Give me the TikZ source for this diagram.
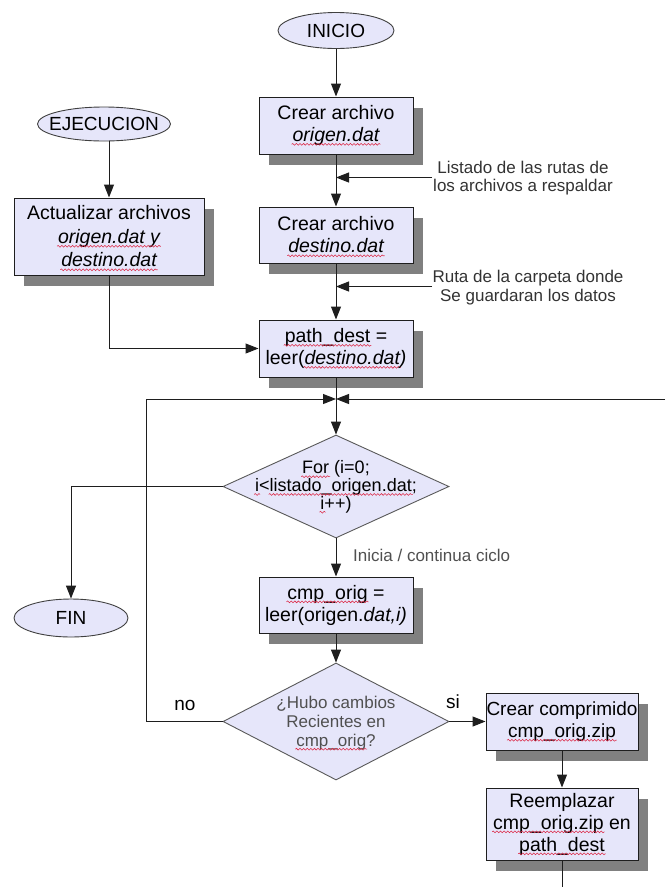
\documentclass[tikz,border=0pt]{standalone}
\usepackage{fontspec}
\setmainfont{Liberation Sans}
\usetikzlibrary{shapes.geometric,arrows.meta,shadows,decorations.pathmorphing}

\definecolor{lav}{RGB}{230,230,250}
\definecolor{shade}{RGB}{128,128,128}
\definecolor{edge}{RGB}{30,30,30}
\definecolor{softtext}{RGB}{80,80,80}
\definecolor{spellred}{RGB}{220,40,70}

% red wavy underline, as a spell checker marks unknown words
\newcommand\spellmark[1]{\tikz[baseline=(sw.base)]{%
  \node[shape=rectangle, inner sep=0pt, outer sep=0pt, anchor=base,
        minimum width=0pt, minimum height=0pt, draw=none, fill=none] (sw) {#1};%
  \draw[overlay, spellred, line width=0.55pt, decorate,
        decoration={snake, amplitude=0.9pt, segment length=3.6pt}]
    ([yshift=-2.8pt,xshift=-1pt]sw.base west) -- ([yshift=-2.8pt,xshift=1pt]sw.base east);}}

\begin{document}
\begin{tikzpicture}[x=1pt,y=-1pt,
  proc/.style={rectangle, draw=edge, line width=1pt, fill=lav, align=center,
    inner sep=0pt, font=\fontsize{19.5}{22}\selectfont,
    drop shadow={shadow xshift=10pt, shadow yshift=-11pt, fill=shade, opacity=1}},
  term/.style={ellipse, draw=black!75, line width=0.9pt, fill=lav, inner sep=0pt},
  termtext/.style={font=\fontsize{19}{22}\selectfont, inner sep=0pt},
  dec/.style={diamond, draw=black!65, line width=0.9pt, fill=lav, inner sep=0pt},
  dectext/.style={align=center, inner sep=0pt},
  note/.style={align=center, inner sep=0pt, text=black!80, font=\fontsize{17}{18.5}\selectfont},
  flow/.style={draw=edge, line width=1pt, -{Triangle[length=13pt,width=10pt]}},
  link/.style={draw=edge, line width=1pt}
]
\useasboundingbox (0,0) rectangle (665,887);
\fill[white] (0,0) rectangle (665,887);

% terminals
\node[term, minimum width=116pt, minimum height=36pt] (inicio) at (336,30.5) {};
\node[termtext] (inicio-t) at (inicio) {INICIO};
\node[term, minimum width=133pt, minimum height=34pt] (ejec) at (104,124) {};
\node[termtext] (ejec-t) at (ejec) {EJECUCION};
\node[term, minimum width=114pt, minimum height=38pt] (fin) at (71,618) {};
\node[termtext] (fin-t) at (fin) {FIN};

% process boxes
\node[proc, minimum width=154pt, minimum height=57pt] (b1) at (336,125.5)
  {Crear archivo\\\textit{\spellmark{origen.dat}}};
\node[proc, minimum width=154pt, minimum height=56pt] (b2) at (336,235)
  {Crear archivo\\\textit{\spellmark{destino.dat}}};
\node[proc, minimum width=190pt, minimum height=77pt, font=\fontsize{19.5}{23.5}\selectfont] (bL) at (109,236.5)
  {Actualizar archivos\\\textit{\spellmark{origen.dat y}}\\\textit{\spellmark{destino.dat}}};
\node[proc, minimum width=154pt, minimum height=57pt] (b3) at (336,348.5)
  {\spellmark{path\_dest} =\\leer(\textit{\spellmark{destino.dat})}};
\node[proc, minimum width=154pt, minimum height=56pt] (b4) at (336,605)
  {\spellmark{cmp\_orig} =\\leer(origen.\textit{dat,i)}};
\node[proc, minimum width=152pt, minimum height=57pt, font=\fontsize{19}{22}\selectfont] (b5) at (562,721.5)
  {Crear comprimido\\\spellmark{cmp\_orig.zip}};
\node[proc, minimum width=152pt, minimum height=72pt] (b6) at (562,824)
  {Reemplazar\\\spellmark{cmp\_orig.zip} en\\\spellmark{path\_dest}};

% decisions
\node[dec, minimum width=226pt, minimum height=103pt] (d1) at (336,486.5) {};
\node[dectext, font=\fontsize{18}{16.5}\selectfont] (d1-t) at (336,487)
  {\spellmark{For} (i=0;\\\spellmark{i}<\spellmark{listado\_origen.dat};\\\spellmark{i}++)};
\node[dec, minimum width=226pt, minimum height=117pt] (d2) at (336,721.5) {};
\node[dectext, text=softtext, font=\fontsize{17}{19}\selectfont] (d2-t) at (336,723)
  {¿Hubo cambios\\Recientes en\\\spellmark{cmp\_orig}?};

% side notes
\node[note] (lst) at (523,178) {Listado de las rutas de\\los archivos a respaldar};
\node[note] (ruta) at (528,287.5) {Ruta de la carpeta donde\\Se guardaran los datos};
\node[note, anchor=west, text=softtext] (ciclo) at (353,555) {Inicia / continua ciclo};
\node[termtext] (no) at (185,705) {no};
\node[termtext] (si) at (453,702) {si};

% helper points
\coordinate (lstin) at (432,177.5);
\coordinate (rutain) at (432,286.5);
\coordinate (mrg) at (336,399);
\coordinate (redge) at (665,399);
\coordinate (bedge) at (562,887);

% connectors
\draw[flow] (inicio) -- (b1);
\draw[flow] (b1) -- (b2);
\draw[flow] (lstin) -- (lstin -| b1.south);
\draw[flow] (b2) -- (b3);
\draw[flow] (rutain) -- (rutain -| b2.south);
\draw[flow] (ejec.south -| bL.north) -- (bL.north);
\draw[flow] (bL.south) |- (b3.west);
\draw[flow] (b3.south) -- (d1.north);
\draw[flow] (d2.west) -- ++(-76,0) |- (mrg);
\draw[flow] (redge) -- (mrg);
\draw[flow] (d1.west) -| (fin.north);
\draw[flow] (d1.south) -- (b4.north);
\draw[flow] (b4.south) -- (d2.north);
\draw[flow] (d2.east) -- (b5.west);
\draw[flow] (b5.south) -- (b6.north);
\draw[link] (b6.south) -- (bedge);
\end{tikzpicture}
\end{document}
